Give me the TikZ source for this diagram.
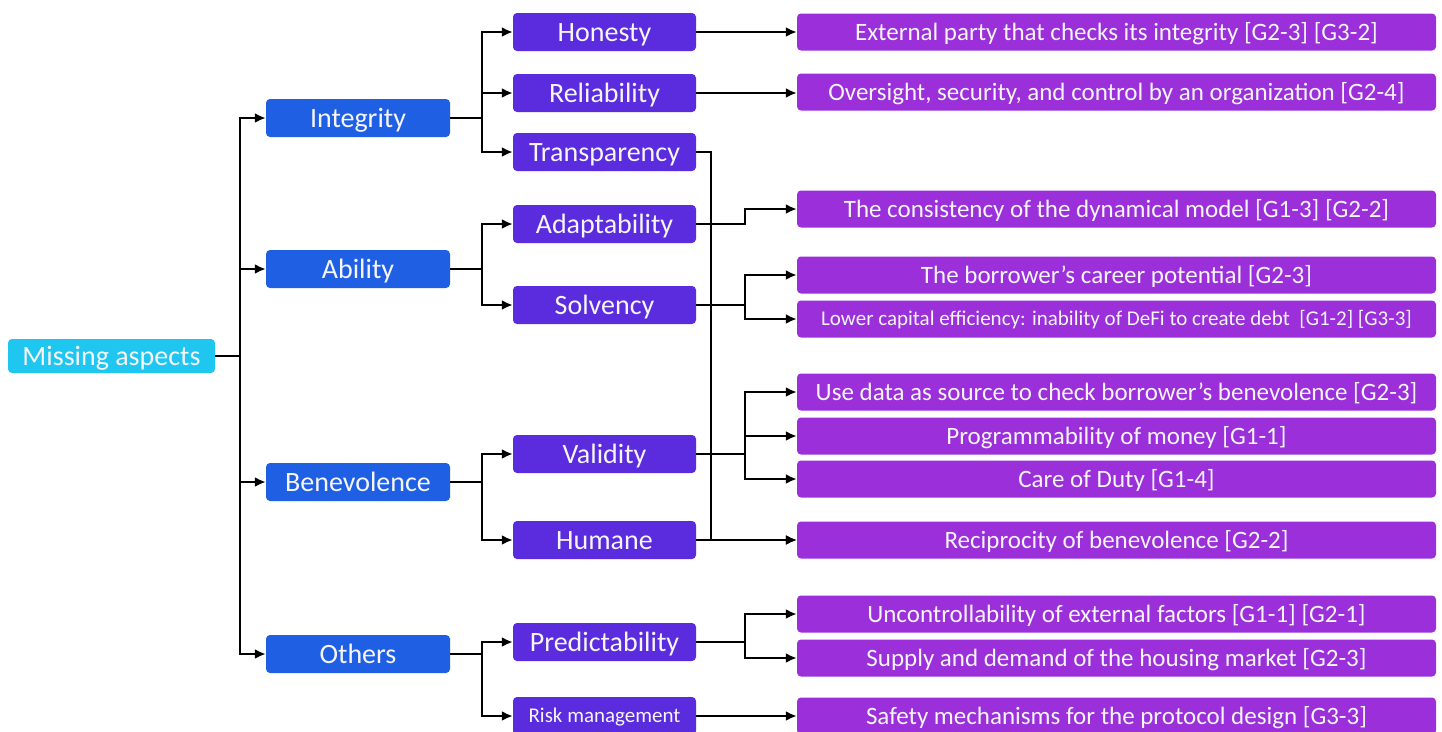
\documentclass[tikz,border=0pt]{standalone}
\usepackage{fontspec}
\setmainfont{Carlito}
\usetikzlibrary{arrows.meta}
\definecolor{rootc}{RGB}{30,198,240}
\definecolor{lvla}{RGB}{31,95,228}
\definecolor{lvlb}{RGB}{91,43,222}
\definecolor{lvlc}{RGB}{155,47,217}
\definecolor{txt}{RGB}{245,245,250}
\tikzset{
  box/.style={rounded corners=4pt, inner sep=0pt, text=txt, text depth=0pt},
  bigtext/.style={font=\fontsize{28}{32}\selectfont, text height=18pt},
  midtext/.style={font=\fontsize{25}{29}\selectfont, text height=16pt},
  smalltext/.style={font=\fontsize{21}{25}\selectfont, text height=13.5pt},
  rootbox/.style={box, bigtext, fill=rootc, minimum width=207pt, minimum height=34pt},
  boxa/.style={box, bigtext, fill=lvla, minimum width=184pt, minimum height=38pt},
  boxb/.style={box, bigtext, fill=lvlb, minimum width=183pt, minimum height=38pt},
  boxc/.style={box, midtext, fill=lvlc, minimum width=639pt, minimum height=37pt},
  link/.style={line width=2.4pt, draw=black},
  arr/.style={link, -{Latex[length=11pt,width=10pt]}},
}
\begin{document}
\begin{tikzpicture}[x=1pt,y=-1pt]
\useasboundingbox (0,0) rectangle (1442,731);
\fill[white] (0,0) rectangle (1442,731);

% root
\node[rootbox] (root) at (111.5,356) {Missing aspects};

% first level
\node[boxa] (integ) at (358,118) {Integrity};
\node[boxa] (abil)  at (358,269) {Ability};
\node[boxa] (benev) at (358,482) {Benevolence};
\node[boxa] (other) at (358,654) {Others};

% second level
\node[boxb] (hon)   at (604.5,32)  {Honesty};
\node[boxb] (rel)   at (604.5,93)  {Reliability};
\node[boxb] (trans) at (604.5,152) {Transparency};
\node[boxb] (adapt) at (604.5,224) {Adaptability};
\node[boxb] (solv)  at (604.5,305) {Solvency};
\node[boxb] (valid) at (604.5,454) {Validity};
\node[boxb] (hum)   at (604.5,540) {Humane};
\node[boxb] (pred)  at (604.5,642) {Predictability};
\node[boxb, smalltext] (risk) at (604.5,716) {Risk management};

% third level
\node[boxc] (ext)   at (1116.5,32)  {External party that checks its integrity [G2-3] [G3-2]};
\node[boxc] (over)  at (1116.5,92)  {Oversight, security, and control by an organization [G2-4]};
\node[boxc] (cons)  at (1116.5,209) {The consistency of the dynamical model [G1-3] [G2-2]};
\node[boxc] (career) at (1116.5,275) {The borrower’s career potential [G2-3]};
\node[boxc, smalltext] (capital) at (1116.5,319) {Lower capital efficiency: inability of DeFi to create debt\ \ [G1-2] [G3-3]};
\node[boxc] (usedata) at (1116.5,392) {Use data as source to check borrower’s benevolence [G2-3]};
\node[boxc] (prog)  at (1116.5,436) {Programmability of money [G1-1]};
\node[boxc] (duty)  at (1116.5,479) {Care of Duty [G1-4]};
\node[boxc] (recip) at (1116.5,540) {Reciprocity of benevolence [G2-2]};
\node[boxc] (uncon) at (1116.5,614) {Uncontrollability of external factors [G1-1] [G2-1]};
\node[boxc] (supply) at (1116.5,658) {Supply and demand of the housing market [G2-3]};
\node[boxc] (safety) at (1116.5,716) {Safety mechanisms for the protocol design [G3-3]};

% root to first level
\foreach \n in {integ,abil,benev,other}
  \draw[arr] (root.east) -- ++(25,0) |- (\n.west);

% first to second level
\foreach \n in {hon,rel,trans}
  \draw[arr] (integ.east) -- ++(32,0) |- (\n.west);
\foreach \n in {adapt,solv}
  \draw[arr] (abil.east) -- ++(32,0) |- (\n.west);
\foreach \n in {valid,hum}
  \draw[arr] (benev.east) -- ++(32,0) |- (\n.west);
\foreach \n in {pred,risk}
  \draw[arr] (other.east) -- ++(32,0) |- (\n.west);

% second to third level
\draw[arr] (hon.east) -- (hon.east -| ext.west);
\draw[arr] (rel.east) -- (rel.east -| over.west);
\draw[arr] (adapt.east) -- ++(49,0) |- (cons.west);
\foreach \n in {career,capital}
  \draw[arr] (solv.east) -- ++(49,0) |- (\n.west);
\foreach \n in {usedata,prog,duty}
  \draw[arr] (valid.east) -- ++(49,0) |- (\n.west);
\draw[arr] (trans.east) -- ++(15,0) |- (recip.west);
\draw[arr] (hum.east) -- (hum.east -| recip.west);
\foreach \n in {uncon,supply}
  \draw[arr] (pred.east) -- ++(49,0) |- (\n.west);
\draw[arr] (risk.east) -- (risk.east -| safety.west);
\end{tikzpicture}
\end{document}
